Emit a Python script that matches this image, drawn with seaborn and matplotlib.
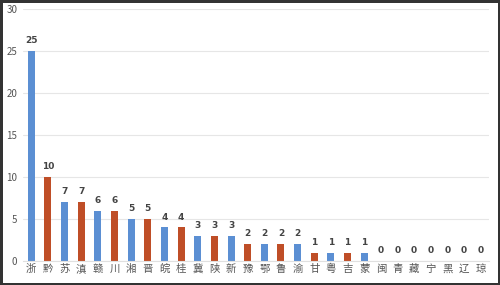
import matplotlib
matplotlib.use("Agg")
import matplotlib.pyplot as plt
import seaborn as sns
import pandas as pd

categories = ["浙", "黔", "苏", "滇", "赣", "川", "湘", "晋", "皖", "桂", "冀", "陕", "新", "豫",
              "鄂", "鲁", "渝", "甘", "粤", "吉", "蒙", "闽", "青", "藏", "宁", "黑", "辽", "琼"]
values = [25, 10, 7, 7, 6, 6, 5, 5, 4, 4, 3, 3, 3, 2, 2, 2, 2, 1, 1, 1, 1, 0, 0, 0, 0, 0, 0, 0]
blue, red = "#5B8FD3", "#BF4E27"
bar_colors = [blue if i % 2 == 0 else red for i in range(len(categories))]

sns.set_theme(style="white")
plt.rcParams["font.family"] = ["Noto Sans CJK SC", "DejaVu Sans"]

df = pd.DataFrame({"cat": categories, "val": values})

fig = plt.figure(figsize=(5, 2.85), dpi=100)
fig.patch.set_edgecolor("#333333")
fig.patch.set_linewidth(2.5)
ax = fig.add_axes([0.046, 0.084, 0.932, 0.884])

sns.barplot(data=df, x="cat", y="val", hue="cat", palette=bar_colors,
            width=0.42, ax=ax, legend=False, saturation=1, linewidth=0)

ax.set_ylim(0, 30)
ax.set_yticks([0, 5, 10, 15, 20, 25, 30])
ax.set_xlim(-0.5, len(categories) - 0.5)
ax.yaxis.grid(True, color="#e6e6e6", linewidth=0.8)
ax.set_axisbelow(True)
for s in ["top", "right", "left"]:
    ax.spines[s].set_visible(False)
ax.spines["bottom"].set_color("#e0e0e0")
ax.spines["bottom"].set_linewidth(0.8)
ax.set_xlabel("")
ax.set_ylabel("")
ax.tick_params(axis="y", length=0, labelsize=7, labelcolor="#555555", pad=4)
ax.tick_params(axis="x", length=0, labelsize=7.5, labelcolor="#555555", pad=2)

for i, v in enumerate(values):
    ax.text(i, v + 0.7, str(v), ha="center", va="bottom", fontsize=6.5,
            color="#444444", fontweight="bold", family="DejaVu Sans")

fig.savefig("out.png", dpi=100, edgecolor=fig.get_edgecolor())
